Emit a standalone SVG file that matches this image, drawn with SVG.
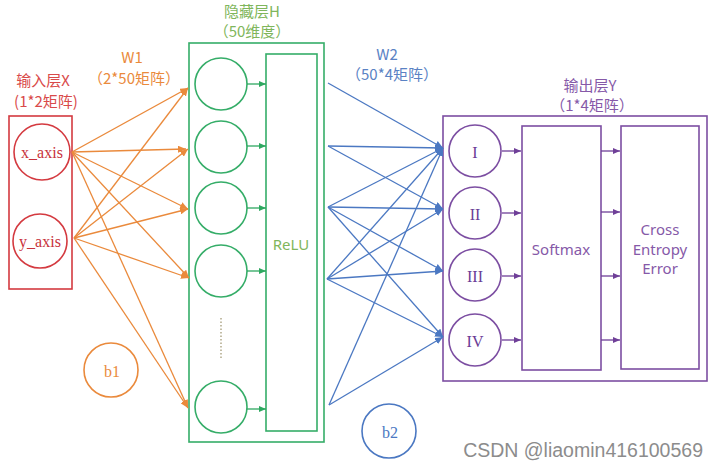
<svg xmlns="http://www.w3.org/2000/svg" width="720" height="467" viewBox="0 0 720 467">
<defs>
<style>
.cn{font-family:"Noto Sans CJK SC","Noto Sans",sans-serif;font-size:15px;text-anchor:middle;dominant-baseline:central}
.sr{font-family:"Liberation Serif","DejaVu Serif",serif;font-size:16px;text-anchor:middle;dominant-baseline:central}
.sn{font-family:"Noto Sans","Open Sans",sans-serif;font-size:15px;text-anchor:middle;dominant-baseline:central}
.red{stroke:#d43a40;fill:none;stroke-width:1.6}
.grn{stroke:#35ad68;fill:none;stroke-width:1.6}
.pur{stroke:#7c4ea2;fill:none;stroke-width:1.6}
.org{stroke:#ea8a3c;fill:none;stroke-width:1.6}
.blu{stroke:#4b78c2;fill:none;stroke-width:1.6}
.co{stroke:#ea8a3c;stroke-width:1.3;fill:none;marker-end:url(#ao)}
.cb{stroke:#4b78c2;stroke-width:1.3;fill:none;marker-end:url(#ab)}
.cg{stroke:#2ea860;stroke-width:1.3;fill:none;marker-end:url(#ag)}
.cp{stroke:#6f3f98;stroke-width:1.3;fill:none;marker-end:url(#ap)}
</style>
<marker id="ao" markerUnits="userSpaceOnUse" markerWidth="9" markerHeight="7" refX="8" refY="3.5" orient="auto"><path d="M0,0 L8,3.5 L0,7 z" fill="#ea8a3c"/></marker>
<marker id="ab" markerUnits="userSpaceOnUse" markerWidth="9" markerHeight="7" refX="8" refY="3.5" orient="auto"><path d="M0,0 L8,3.5 L0,7 z" fill="#4b78c2"/></marker>
<marker id="ag" markerUnits="userSpaceOnUse" markerWidth="8" markerHeight="6" refX="7" refY="3" orient="auto"><path d="M0,0 L7,3 L0,6 z" fill="#2ea860"/></marker>
<marker id="ap" markerUnits="userSpaceOnUse" markerWidth="8" markerHeight="6" refX="7" refY="3" orient="auto"><path d="M0,0 L7,3 L0,6 z" fill="#6f3f98"/></marker>
</defs>
<rect width="720" height="467" fill="#ffffff"/>

<g id="labels">
<text class="cn" x="43" y="79" fill="#d94a4a">输入层X</text>
<text class="cn" x="46" y="100" fill="#d94a4a">(1*2矩阵)</text>
<text class="cn" x="132" y="56" fill="#ea8a3c">W1</text>
<text class="cn" x="134" y="77" fill="#ea8a3c">（2*50矩阵）</text>
<text class="cn" x="252" y="10" fill="#7fb65c">隐藏层H</text>
<text class="cn" x="252" y="30" fill="#7fb65c">（50维度）</text>
<text class="cn" x="387" y="53" fill="#5a82c4">W2</text>
<text class="cn" x="392" y="73" fill="#5a82c4">（50*4矩阵）</text>
<text class="cn" x="590" y="84" fill="#8659a8">输出层Y</text>
<text class="cn" x="592" y="104" fill="#8659a8">（1*4矩阵）</text>
</g>

<g id="input-layer">
<rect class="red" x="9" y="116" width="63" height="173"/>
<g id="x_axis"><circle class="red" cx="42" cy="152" r="28"/><text class="sr" x="42" y="152" fill="#c8323a">x_axis</text></g>
<g id="y_axis"><circle class="red" cx="40" cy="241" r="27"/><text class="sr" x="40" y="241" fill="#c8323a">y_axis</text></g>
</g>

<g id="b1"><circle class="org" cx="111" cy="370" r="27"/><text class="sr" x="112" y="371" fill="#ea8a3c">b1</text></g>
<g id="b2"><circle class="blu" cx="389" cy="431" r="27"/><text class="sr" x="390" y="432" fill="#4b78c2">b2</text></g>

<g id="hidden-layer">
<rect class="grn" x="189" y="43" width="135" height="399"/>
<g id="relu"><rect class="grn" x="266" y="54" width="51" height="377"/><text class="sn" x="291" y="244" fill="#7fb65c">ReLU</text></g>
<g id="h1"><circle class="grn" cx="221" cy="84" r="26"/></g>
<g id="h2"><circle class="grn" cx="221" cy="147" r="26"/></g>
<g id="h3"><circle class="grn" cx="221" cy="208" r="26"/></g>
<g id="h4"><circle class="grn" cx="221" cy="271" r="26"/></g>
<g id="h50"><circle class="grn" cx="221" cy="407" r="26"/></g>
<line x1="221" y1="318" x2="221" y2="360" stroke="#b0a889" stroke-width="1.5" stroke-dasharray="1.5,2"/>
</g>

<g id="output-layer">
<rect class="pur" x="443" y="116" width="264" height="265"/>
<g id="o1"><circle class="pur" cx="475" cy="151" r="26"/><text class="sr" x="475" y="152" fill="#6a3c96">I</text></g>
<g id="o2"><circle class="pur" cx="475" cy="213" r="26"/><text class="sr" x="475" y="214" fill="#6a3c96">II</text></g>
<g id="o3"><circle class="pur" cx="475" cy="275" r="26"/><text class="sr" x="475" y="276" fill="#6a3c96">III</text></g>
<g id="o4"><circle class="pur" cx="475" cy="340" r="26"/><text class="sr" x="475" y="341" fill="#6a3c96">IV</text></g>
<g id="softmax"><rect class="pur" x="522" y="126" width="79" height="244"/><text class="sn" x="561" y="249" fill="#8659a8">Softmax</text></g>
<g id="cross-entropy"><rect class="pur" x="621" y="126" width="78" height="243"/>
<text class="sn" x="660" y="229" fill="#8659a8">Cross</text>
<text class="sn" x="660" y="249" fill="#8659a8">Entropy</text>
<text class="sn" x="660" y="268" fill="#8659a8">Error</text></g>
</g>

<g id="connectors">
<line class="co" x1="72" y1="152" x2="188" y2="88"/>
<line class="co" x1="72" y1="152" x2="186" y2="149"/>
<line class="co" x1="72" y1="152" x2="188" y2="209"/>
<line class="co" x1="72" y1="152" x2="189" y2="278"/>
<line class="co" x1="72" y1="152" x2="188" y2="408"/>
<line class="co" x1="74" y1="238" x2="188" y2="88"/>
<line class="co" x1="74" y1="238" x2="188" y2="149"/>
<line class="co" x1="74" y1="238" x2="188" y2="209"/>
<line class="co" x1="74" y1="238" x2="189" y2="278"/>
<line class="co" x1="74" y1="238" x2="188" y2="408"/>

<line class="cg" x1="247" y1="84" x2="266" y2="84"/>
<line class="cg" x1="247" y1="146" x2="266" y2="146"/>
<line class="cg" x1="247" y1="208" x2="266" y2="208"/>
<line class="cg" x1="247" y1="271" x2="266" y2="271"/>
<line class="cg" x1="247" y1="409" x2="266" y2="409"/>

<line class="cb" x1="328" y1="83" x2="443" y2="148"/>
<line class="cb" x1="328" y1="146" x2="443" y2="148"/>
<line class="cb" x1="328" y1="146" x2="443" y2="209"/>
<line class="cb" x1="328" y1="207" x2="443" y2="148"/>
<line class="cb" x1="328" y1="207" x2="443" y2="209"/>
<line class="cb" x1="328" y1="207" x2="443" y2="271"/>
<line class="cb" x1="328" y1="207" x2="443" y2="337"/>
<line class="cb" x1="327" y1="279" x2="443" y2="148"/>
<line class="cb" x1="327" y1="279" x2="443" y2="209"/>
<line class="cb" x1="327" y1="279" x2="443" y2="271"/>
<line class="cb" x1="327" y1="279" x2="443" y2="337"/>
<line class="cb" x1="329" y1="405" x2="443" y2="148"/>
<line class="cb" x1="329" y1="405" x2="443" y2="337"/>

<line class="cp" x1="502" y1="151" x2="521" y2="151"/>
<line class="cp" x1="502" y1="213" x2="521" y2="213"/>
<line class="cp" x1="502" y1="276" x2="521" y2="276"/>
<line class="cp" x1="502" y1="340" x2="521" y2="340"/>
<line class="cp" x1="601" y1="151" x2="620" y2="151"/>
<line class="cp" x1="601" y1="212" x2="620" y2="212"/>
<line class="cp" x1="601" y1="276" x2="620" y2="276"/>
<line class="cp" x1="601" y1="340" x2="620" y2="340"/>
</g>

<text x="703" y="457" text-anchor="end" font-family="Liberation Sans, Arial, sans-serif" font-size="19.5" fill="#8c8c8c">CSDN @liaomin416100569</text>
</svg>
